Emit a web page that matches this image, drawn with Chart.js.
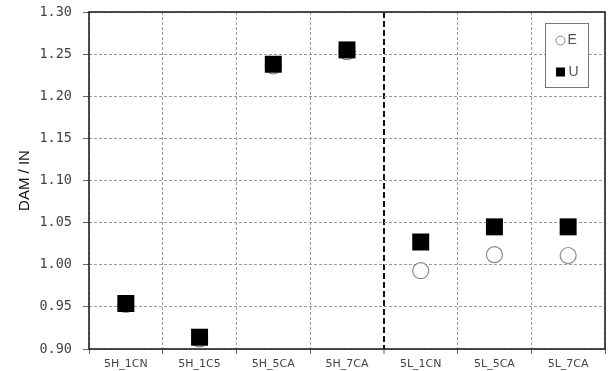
<!DOCTYPE html>
<html>
<head>
<meta charset="utf-8">
<script src="https://cdn.jsdelivr.net/npm/chart.js@4.4.0/dist/chart.umd.min.js"></script>
<style>
  html, body { margin: 0; padding: 0; background: #fff; }
  #wrap { width: 609px; height: 371px; }
</style>
</head>
<body>
<div id="wrap"><canvas id="c" width="609" height="371"></canvas></div>
<script>
// Specimen groups along the x axis
const categories = ['5H_1CN', '5H_1C5', '5H_5CA', '5H_7CA', '5L_1CN', '5L_5CA', '5L_7CA'];
// DAM / IN ratio per specimen
const seriesE = [0.953, 0.912, 1.236, 1.253, 0.993, 1.012, 1.011];
const seriesU = [0.954, 0.914, 1.238, 1.255, 1.027, 1.045, 1.045];
// Y axis range and step
const yMin = 0.90, yMax = 1.30, yStep = 0.05;
// Grid line index separating the 5H and 5L groups
const groupDivider = 4;

const frameAndLegend = {
  id: 'frameAndLegend',
  beforeDatasetsDraw(chart) {
    const { ctx, chartArea: a } = chart;
    ctx.save();
    ctx.setLineDash([]);
    ctx.strokeStyle = '#222';
    ctx.lineWidth = 1.6;
    ctx.strokeRect(a.left, a.top, a.right - a.left, a.bottom - a.top);
    ctx.restore();
  },
  afterDraw(chart) {
    const { ctx, chartArea: a } = chart;
    const bx = a.right - 59.5, by = a.top + 11.5, bw = 43, bh = 64;
    ctx.save();
    ctx.setLineDash([]);
    ctx.fillStyle = '#fff';
    ctx.fillRect(bx, by, bw, bh);
    ctx.strokeStyle = '#777';
    ctx.lineWidth = 1;
    ctx.strokeRect(bx, by, bw, bh);
    // E entry
    ctx.beginPath();
    ctx.arc(bx + 15, by + 17, 4.5, 0, Math.PI * 2);
    ctx.strokeStyle = '#888';
    ctx.lineWidth = 1;
    ctx.stroke();
    ctx.font = '14px "Liberation Sans", Arial, sans-serif';
    ctx.fillStyle = '#555';
    ctx.textBaseline = 'middle';
    ctx.fillText('E', bx + 22, by + 17);
    // U entry
    ctx.fillStyle = '#000';
    ctx.fillRect(bx + 10.5, by + 44, 9, 9);
    ctx.fillStyle = '#555';
    ctx.fillText('U', bx + 23, by + 49);
    ctx.restore();
  }
};

new Chart(document.getElementById('c'), {
  type: 'line',
  data: {
    labels: categories,
    datasets: [
      {
        label: 'E',
        data: seriesE,
        showLine: false,
        order: 1,
        pointStyle: 'circle',
        pointRadius: 8,
        pointHoverRadius: 8,
        pointBackgroundColor: '#fff',
        pointBorderColor: '#888',
        pointBorderWidth: 1.2
      },
      {
        label: 'U',
        data: seriesU,
        showLine: false,
        order: 0,
        pointStyle: 'rect',
        pointRadius: 12,
        pointHoverRadius: 12,
        pointBackgroundColor: '#000',
        pointBorderColor: '#000',
        pointBorderWidth: 0
      }
    ]
  },
  options: {
    responsive: false,
    animation: false,
    events: [],
    layout: { autoPadding: false, padding: { left: 0, top: 12, right: 4, bottom: 0 } },
    plugins: { legend: { display: false }, tooltip: { enabled: false } },
    scales: {
      x: {
        type: 'category',
        offset: true,
        border: {
          display: false,
          dash: (c) => (c.index === groupDivider ? [6, 3] : [3, 2])
        },
        grid: {
          offset: true,
          color: (c) => (c.index === groupDivider ? '#111' : '#9a9a9a'),
          lineWidth: (c) => (c.index === groupDivider ? 2 : 1),
          tickLength: 5,
          tickColor: '#666',
          tickWidth: 1
        },
        ticks: {
          color: '#444',
          padding: 4,
          maxRotation: 0,
          autoSkip: false,
          font: { family: '"DejaVu Sans", sans-serif', size: 11 }
        },
        afterFit: (s) => { s.height = 22; s.paddingLeft = 0; s.paddingRight = 0; }
      },
      y: {
        min: yMin,
        max: yMax,
        border: { display: false, dash: [3, 2] },
        grid: {
          color: '#9a9a9a',
          lineWidth: 1,
          tickLength: 6,
          tickColor: '#666',
          tickWidth: 1
        },
        ticks: {
          stepSize: yStep,
          color: '#444',
          padding: 11,
          font: { family: '"DejaVu Sans Mono", monospace', size: 13.5 },
          callback: (v) => Number(v).toFixed(2)
        },
        title: {
          display: true,
          text: 'DAM / IN',
          color: '#111',
          padding: { top: 16, bottom: 0 },
          font: { family: '"Liberation Sans", Arial, sans-serif', size: 15 }
        },
        afterFit: (s) => { s.width = 89; s.paddingTop = 0; s.paddingBottom = 0; }
      }
    }
  },
  plugins: [frameAndLegend]
});
</script>
</body>
</html>
